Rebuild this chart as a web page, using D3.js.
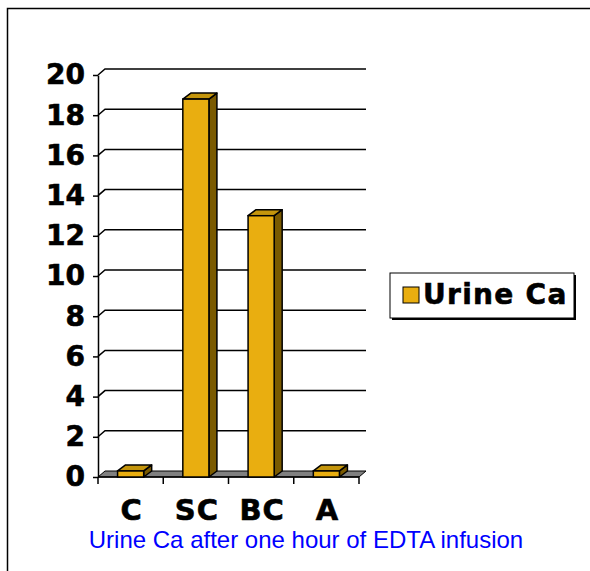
<!DOCTYPE html>
<html>
<head>
<meta charset="utf-8">
<script src="https://cdn.jsdelivr.net/npm/d3@7"></script>
<style>
  body { margin: 0; background: #fff; }
  svg { display: block; }
</style>
</head>
<body>
<div id="chart"></div>
<script>
// data
var categories = ["C", "SC", "BC", "A"];
var urineCa = [0.3, 18.8, 13.0, 0.3];
var yTicks = [0, 2, 4, 6, 8, 10, 12, 14, 16, 18, 20];
var seriesName = "Urine Ca";
var caption = "Urine Ca after one hour of EDTA infusion";

var W = 590, H = 571;
var depthX = 7, depthY = -6;   // 3d offset of the back wall
var boldFont = "DejaVu Sans, Verdana, sans-serif";

var svg = d3.select("#chart")
    .append("svg")
    .attr("width", W)
    .attr("height", H);

// outer frame (only top and left edges show)
svg.append("path")
    .attr("d", "M7.5," + H + "V8.5H" + W)
    .attr("fill", "none")
    .attr("stroke", "#000")
    .attr("stroke-width", 1.5);

var x = d3.scaleBand()
    .domain(categories)
    .range([98, 359])
    .paddingInner(0.6)
    .paddingOuter(0.3);

var y = d3.scaleLinear()
    .domain([0, 20])
    .range([477, 75]);

var x0 = x.range()[0], x1 = x.range()[1];

// floor
svg.append("path")
    .attr("d", "M" + x0 + "," + y(0) + "L" + x1 + "," + y(0) +
        "L" + (x1 + depthX) + "," + (y(0) + depthY) +
        "L" + (x0 + depthX) + "," + (y(0) + depthY) + "Z")
    .attr("fill", "#808080")
    .attr("stroke", "#000")
    .attr("stroke-width", 1);

// gridlines on back wall + diagonal on side wall
var grid = svg.append("g");
yTicks.filter(d => d > 0).forEach(function (t) {
    grid.append("path")
        .attr("d", "M" + x0 + "," + y(t) + "L" + (x0 + depthX) + "," + (y(t) + depthY) +
            "H" + (x1 + depthX))
        .attr("fill", "none")
        .attr("stroke", "#000")
        .attr("stroke-width", 1.5);
});

// y axis
var yAxis = d3.axisLeft(y)
    .tickValues(yTicks)
    .tickSize(5)
    .tickPadding(8)
    .tickSizeOuter(0);

var yg = svg.append("g")
    .attr("transform", "translate(" + x0 + ",0)")
    .call(yAxis);
yg.selectAll("path, line").attr("stroke", "#000").attr("stroke-width", 1.5);
yg.selectAll("text")
    .attr("font-family", boldFont)
    .attr("font-weight", "bold")
    .attr("font-size", 28)
    .attr("fill", "#000")
    .attr("stroke", "#000")
    .attr("stroke-width", 0.6);

// x axis line + ticks at band edges
svg.append("line")
    .attr("x1", x0).attr("x2", x1)
    .attr("y1", y(0)).attr("y2", y(0))
    .attr("stroke", "#000").attr("stroke-width", 1.5);

var edges = categories.map(c => x(c) - x.step() * x.paddingInner() / 2);
edges.push(x1);
svg.selectAll(".xtick")
    .data(edges)
    .enter()
    .append("line")
    .attr("x1", d => d).attr("x2", d => d)
    .attr("y1", y(0)).attr("y2", y(0) + 7)
    .attr("stroke", "#000").attr("stroke-width", 1.5);

svg.selectAll(".xlabel")
    .data(categories)
    .enter()
    .append("text")
    .attr("x", d => x(d) + x.bandwidth() / 2 + 1)
    .attr("y", 520)
    .attr("text-anchor", "middle")
    .attr("font-family", boldFont)
    .attr("font-weight", "bold")
    .attr("font-size", 29)
    .attr("letter-spacing", 1)
    .attr("stroke", "#000")
    .attr("stroke-width", 0.6)
    .text(d => d);

// 3d bars
var bars = svg.selectAll(".bar")
    .data(categories.map((c, i) => ({ cat: c, v: urineCa[i] })))
    .enter()
    .append("g");

var bw = x.bandwidth();
var bdx = 8, bdy = -6;

bars.append("path") // side
    .attr("d", function (d) {
        var r = x(d.cat) + bw, t = y(d.v), b = y(0);
        return "M" + r + "," + b + "L" + r + "," + t + "L" + (r + bdx) + "," + (t + bdy) +
            "L" + (r + bdx) + "," + (b + bdy) + "Z";
    })
    .attr("fill", "#7a5a00")
    .attr("stroke", "#000")
    .attr("stroke-width", 1.5)
    .attr("stroke-linejoin", "round");

bars.append("path") // top
    .attr("d", function (d) {
        var l = x(d.cat), t = y(d.v);
        return "M" + l + "," + t + "L" + (l + bdx) + "," + (t + bdy) + "L" + (l + bw + bdx) + "," + (t + bdy) +
            "L" + (l + bw) + "," + t + "Z";
    })
    .attr("fill", "#c4950c")
    .attr("stroke", "#000")
    .attr("stroke-width", 1.5)
    .attr("stroke-linejoin", "round");

bars.append("rect") // front
    .attr("x", d => x(d.cat))
    .attr("y", d => y(d.v))
    .attr("width", bw)
    .attr("height", d => y(0) - y(d.v))
    .attr("fill", "#e9ae10")
    .attr("stroke", "#000")
    .attr("stroke-width", 1.5);

// legend
var lg = svg.append("g").attr("transform", "translate(390,273)");
lg.append("rect")
    .attr("x", 2).attr("y", 2).attr("width", 184).attr("height", 45)
    .attr("fill", "#000");
lg.append("rect")
    .attr("x", 0).attr("y", 0).attr("width", 184).attr("height", 45)
    .attr("fill", "#fff").attr("stroke", "#000").attr("stroke-width", 1);
lg.append("rect")
    .attr("x", 13).attr("y", 14).attr("width", 16).attr("height", 16)
    .attr("fill", "#e9ae10").attr("stroke", "#000").attr("stroke-width", 1);
lg.append("text")
    .attr("x", 33).attr("y", 31)
    .attr("font-family", boldFont)
    .attr("font-weight", "bold")
    .attr("font-size", 28)
    .attr("letter-spacing", 1.3)
    .attr("stroke", "#000")
    .attr("stroke-width", 0.6)
    .text(seriesName);

// caption
svg.append("text")
    .attr("x", 306)
    .attr("y", 548)
    .attr("text-anchor", "middle")
    .attr("font-family", "Liberation Sans, Arial, sans-serif")
    .attr("font-size", 24)
    .attr("fill", "#0000ff")
    .text(caption);
</script>
</body>
</html>
